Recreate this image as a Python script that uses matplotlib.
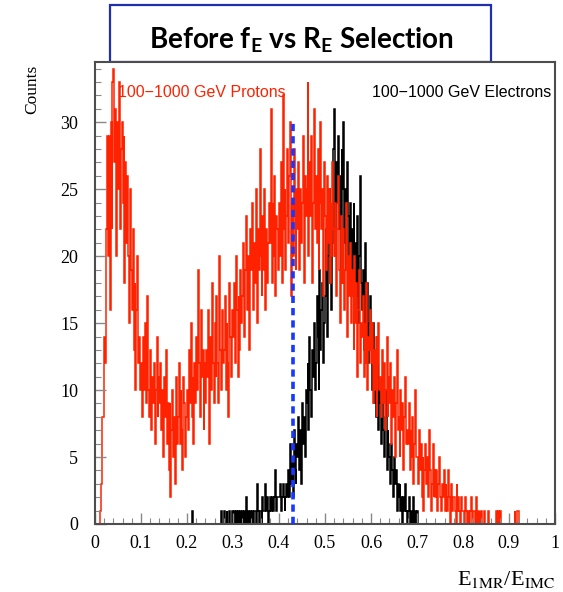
import numpy as np
import matplotlib
matplotlib.use("Agg")
import matplotlib.pyplot as plt
from matplotlib.patches import Rectangle

##########################################################################
#   Histogram contents (bin width 0.002 in E1MR/EIMC)
##########################################################################
bin_width = 0.002

# protons, bins starting at 0.00 and ending at 0.94 (zero above)
protons = [
    0, 0, 0, 0, 0, 1, 1, 3, 8, 8,
    14, 12, 22, 29, 20, 29, 16, 30, 22, 33,
    34, 27, 31, 20, 30, 25, 33, 22, 28, 30,
    24, 29, 18, 27, 21, 26, 20, 15, 25, 19,
    16, 22, 13, 18, 10, 16, 20, 12, 14, 10,
    12, 8, 14, 10, 15, 9, 12, 17, 10, 8,
    13, 7, 11, 9, 12, 6, 10, 14, 8, 11,
    9, 12, 7, 10, 5, 11, 8, 13, 6, 9,
    4, 9, 2, 7, 10, 5, 8, 3, 11, 6,
    8, 12, 6, 10, 7, 4, 11, 9, 5, 8,
    10, 7, 13, 9, 15, 8, 11, 6, 12, 9,
    14, 10, 19, 12, 8, 16, 11, 13, 7, 12,
    9, 13, 11, 16, 6, 14, 10, 18, 12, 9,
    15, 11, 17, 12, 9, 20, 13, 10, 16, 12,
    13, 17, 10, 15, 12, 8, 18, 14, 11, 16,
    14, 18, 12, 20, 16, 11, 17, 13, 19, 15,
    17, 21, 14, 19, 23, 16, 20, 13, 18, 22,
    19, 24, 16, 21, 18, 25, 15, 22, 19, 28,
    20, 17, 23, 19, 25, 16, 22, 18, 21, 24,
    21, 31, 18, 24, 20, 26, 17, 23, 22, 19,
    24, 20, 27, 18, 32, 22, 25, 19, 23, 28,
    21, 26, 30, 17, 24, 20, 28, 23, 19, 25,
    22, 27, 19, 25, 21, 24, 29, 18, 26, 23,
    25, 33, 20, 27, 23, 29, 18, 24, 31, 22,
    26, 21, 28, 19, 24, 30, 22, 25, 17, 27,
    23, 19, 26, 21, 25, 18, 24, 20, 27, 22,
    20, 24, 17, 22, 26, 19, 15, 23, 21, 18,
    22, 16, 19, 24, 14, 20, 17, 21, 15, 19,
    17, 13, 20, 15, 18, 11, 16, 19, 12, 15,
    14, 17, 11, 15, 12, 18, 10, 14, 13, 16,
    12, 15, 9, 13, 10, 14, 8, 12, 15, 10,
    11, 8, 13, 9, 12, 7, 10, 14, 8, 11,
    9, 12, 6, 10, 8, 11, 5, 9, 13, 7,
    8, 5, 10, 7, 9, 4, 8, 11, 6, 7,
    6, 9, 4, 7, 5, 8, 3, 6, 10, 5,
    5, 3, 7, 4, 6, 2, 5, 1, 4, 6,
    3, 5, 2, 7, 4, 1, 3, 6, 2, 4,
    2, 4, 1, 3, 5, 2, 1, 3, 2, 4,
    1, 3, 2, 1, 4, 2, 0, 3, 1, 2,
    2, 1, 0, 3, 1, 2, 1, 0, 2, 1,
    1, 0, 2, 1, 0, 1, 1, 0, 1, 2,
    0, 1, 1, 0, 2, 0, 1, 0, 1, 0,
    1, 0, 0, 1, 0, 0, 0, 1, 0, 0,
    0, 0, 0, 0, 0, 0, 1, 0, 1, 0,
    1, 0, 0, 0, 0, 0, 0, 0, 0, 0,
    0, 0, 0, 0, 0, 0, 1, 0, 0, 1,
    1, 0, 0, 0, 0, 0, 0, 0, 0, 0,
]

# electrons, bins starting at 0.20 and ending at 0.72 (zero elsewhere)
electrons_start = 0.20
electrons = [
    0, 0, 0, 0, 0, 1, 0, 0, 0, 0,
    0, 0, 0, 0, 0, 0, 0, 0, 0, 0,
    0, 0, 0, 0, 0, 0, 0, 0, 0, 0,
    0, 0, 0, 0, 0, 0, 0, 1, 0, 0,
    1, 0, 0, 1, 0, 0, 1, 0, 0, 1,
    0, 1, 0, 1, 0, 1, 0, 0, 1, 0,
    1, 0, 1, 0, 2, 0, 1, 0, 1, 1,
    0, 1, 0, 1, 1, 0, 3, 1, 0, 1,
    1, 0, 2, 1, 1, 3, 1, 2, 0, 1,
    2, 1, 2, 2, 1, 2, 4, 1, 2, 2,
    2, 3, 1, 2, 3, 2, 1, 2, 3, 2,
    4, 2, 6, 3, 5, 2, 7, 4, 3, 6,
    5, 8, 4, 7, 3, 9, 6, 8, 5, 10,
    9, 12, 7, 14, 10, 8, 13, 11, 15, 10,
    12, 17, 14, 10, 19, 13, 16, 18, 12, 15,
    17, 22, 14, 20, 25, 18, 23, 16, 21, 28,
    31, 20, 27, 24, 29, 22, 26, 18, 28, 25,
    30, 21, 25, 19, 27, 23, 20, 24, 18, 22,
    19, 24, 16, 21, 17, 23, 15, 20, 26, 18,
    16, 19, 13, 17, 21, 14, 18, 12, 15, 17,
    13, 10, 15, 9, 12, 8, 11, 14, 7, 10,
    9, 6, 11, 7, 5, 8, 10, 4, 7, 6,
    5, 3, 6, 4, 2, 5, 3, 4, 1, 3,
    2, 3, 1, 2, 0, 2, 1, 3, 1, 0,
    1, 2, 0, 1, 1, 0, 2, 0, 1, 0,
    1, 0, 0, 0, 0, 0, 0, 0, 0, 0,
]

cut_value = 0.43
cut_height = 30

proton_label = "100\u22121000 GeV Protons"
electron_label = "100\u22121000 GeV Electrons"
title_text = r"Before $\mathbf{f}_\mathbf{E}$ vs $\mathbf{R}_\mathbf{E}$ Selection"

##########################################################################
#   Fill the full 0-1 range
##########################################################################
nbins = int(round(1.0 / bin_width))
edges = np.linspace(0, 1, nbins + 1)

protonHist = np.zeros(nbins)
protonHist[:len(protons)] = protons

electronHist = np.zeros(nbins)
i0 = int(round(electrons_start / bin_width))
electronHist[i0:i0 + len(electrons)] = electrons

##########################################################################
#   Drawing
##########################################################################
plt.rcParams['mathtext.fontset'] = 'custom'
plt.rcParams['mathtext.rm'] = 'Lato'
plt.rcParams['mathtext.bf'] = 'Lato:bold'

W, H = 563, 592
fig = plt.figure(figsize=(W / 100, H / 100), dpi=100)
ax = fig.add_axes([95 / W, 1 - 524 / H, 460 / W, 462 / H])

red = '#ff2200'
ax.stairs(electronHist, edges, color='black', lw=1.1)
ax.stairs(protonHist, edges, color=red, lw=1.1)
ax.vlines(cut_value, 0, cut_height, colors='#1638ff', lw=2.6,
          linestyles=(0, (2.0, 1.4)), zorder=5)

ax.set_xlim(0, 1)
ax.set_ylim(0, 34.5)
ax.set_xticks(np.arange(0, 1.01, 0.1))
ax.set_xticklabels(['0', '0.1', '0.2', '0.3', '0.4', '0.5', '0.6', '0.7', '0.8', '0.9', '1'])
ax.set_xticks(np.arange(0, 1.001, 0.02), minor=True)
ax.set_yticks(np.arange(0, 31, 5))
ax.set_yticks(np.arange(0, 35, 1), minor=True)

serif = 'Liberation Serif'
for lab in ax.get_xticklabels() + ax.get_yticklabels():
    lab.set_fontfamily(serif)
    lab.set_fontsize(13)
ax.tick_params(axis='both', which='both', direction='in', color='#888888',
               top=False, right=False)
ax.tick_params(axis='both', which='major', length=8, width=1.0)
ax.tick_params(axis='both', which='minor', length=4, width=0.8)
ax.tick_params(axis='x', which='major', pad=8)
ax.tick_params(axis='y', which='major', pad=12)

for s in ax.spines.values():
    s.set_color('#4d4d4d')
    s.set_linewidth(1.5)

ax.text(0.05, 32.2, proton_label, color=red, fontsize=11.5,
        family='Liberation Sans', va='center', ha='left')
ax.text(0.602, 32.2, electron_label, color='black', fontsize=11.5,
        family='Liberation Sans', va='center', ha='left')

fig.text(32 / W, 1 - 65 / H, 'Counts', rotation=90, family=serif,
         fontsize=12.5, ha='center', va='top')
fig.text(555 / W, 1 - 585 / H, r'E$_{\mathrm{1MR}}$/E$_{\mathrm{IMC}}$',
         family=serif, math_fontfamily='stix', fontsize=16,
         ha='right', va='baseline')

# title box
box = Rectangle((110 / W, 1 - 62 / H), 381 / W, 57 / H, transform=fig.transFigure,
                fill=False, edgecolor='#1e30b0', lw=1.6, zorder=0)
fig.add_artist(box)
fig.text(301 / W, 1 - 48 / H, title_text, family='Lato', weight='bold',
         fontsize=20, ha='center', va='baseline')

fig.savefig('out.png', dpi=100, facecolor='white')
